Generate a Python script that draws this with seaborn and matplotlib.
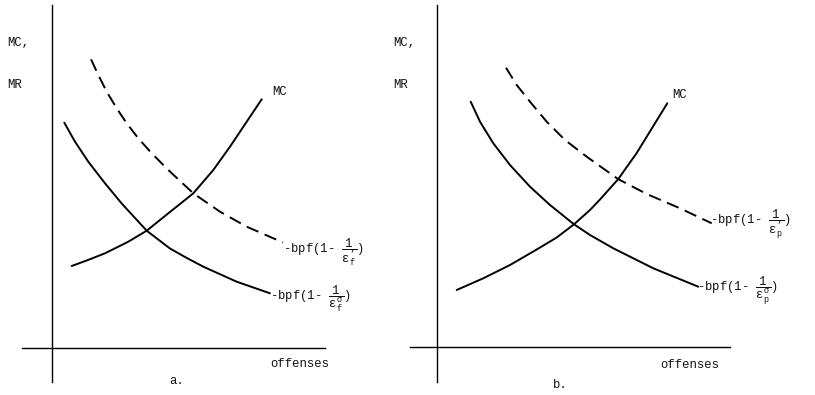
import matplotlib
matplotlib.use("Agg")
import matplotlib.pyplot as plt
import seaborn as sns
import pandas as pd

sns.set_style("white")
plt.rcParams['font.family'] = ['Liberation Mono', 'DejaVu Sans Mono']
plt.rcParams['mathtext.fontset'] = 'custom'
plt.rcParams['mathtext.rm'] = 'Liberation Mono'
plt.rcParams['mathtext.it'] = 'Liberation Mono'
plt.rcParams['mathtext.bf'] = 'Liberation Mono:bold'
plt.rcParams['mathtext.fallback'] = 'stixsans'

# ---- data (panel a) ----
a_mc_x = [1.97, 3.6, 5.3, 7.63, 9.47, 11.63, 13.3, 14.13, 16.13, 17.8, 19.47, 20.97]
a_mc_y = [8.2, 8.8, 9.47, 10.63, 11.73, 13.47, 14.8, 15.47, 17.8, 20.13, 22.63, 24.87]
a_mr_x = [1.23, 2.3, 3.63, 5.3, 6.97, 9.47, 11.8, 13.3, 15.13, 18.47, 21.8]
a_mr_y = [22.53, 20.63, 18.63, 16.47, 14.45, 11.73, 9.95, 9.1, 8.13, 6.63, 5.47]
a_mr2_x = [3.9, 4.63, 5.47, 6.47, 7.47, 8.63, 9.97, 11.63, 14.13, 16.8, 19.47, 23.1]
a_mr2_y = [28.87, 27.3, 25.63, 23.97, 22.47, 20.97, 19.47, 17.8, 15.47, 13.63, 12.13, 10.55]

# ---- data (panel b) ----
b_mc_x = [1.97, 4.63, 7.3, 9.97, 11.97, 13.7, 15.3, 16.3, 18.13, 19.97, 21.63, 23.03]
b_mc_y = [5.7, 6.87, 8.2, 9.75, 10.95, 12.27, 13.7, 14.75, 16.8, 19.4, 22.1, 24.37]
b_mr_x = [3.37, 4.3, 5.63, 7.3, 9.3, 11.3, 13.7, 15.3, 17.63, 21.63, 26.13]
b_mr_y = [24.53, 22.53, 20.37, 18.2, 16.03, 14.2, 12.27, 11.2, 9.87, 7.87, 6.03]
b_mr2_x = [6.9, 7.97, 9.3, 10.97, 12.8, 14.97, 18.1, 20.97, 24.3, 27.47]
b_mr2_y = [27.93, 26.2, 24.53, 22.53, 20.7, 19.03, 16.8, 15.3, 13.87, 12.37]

y_label_1 = "MC,"
y_label_2 = "MR"
x_label = "offenses"
mc_label = "MC"
a_upper = r"-bpf(1- $\dfrac{1}{\varepsilon_f^{’}}$)"
a_lower = r"-bpf(1- $\dfrac{1}{\varepsilon_f^{\sigma}}$)"
b_upper = r"-bpf(1- $\dfrac{1}{\varepsilon_p^{’}}$)"
b_lower = r"-bpf(1- $\dfrac{1}{\varepsilon_p^{\sigma}}$)"

W, H = 815, 395
fig = plt.figure(figsize=(W / 100, H / 100), dpi=100)
fig.patch.set_facecolor("white")

LW = 1.4
FS = 8.8
TXT = "#111111"


def make_axes(px0, px1, ox, oy):
    ax = fig.add_axes([px0 / W, 0, (px1 - px0) / W, 1])
    ax.set_xlim((px0 - ox) / 10, (px1 - ox) / 10)
    ax.set_ylim((oy - H) / 10, oy / 10)
    ax.set_facecolor("none")
    ax.set_xticks([])
    ax.set_yticks([])
    return ax


def style_spines(ax, xb, yb):
    for s in ["top", "right"]:
        ax.spines[s].set_visible(False)
    ax.spines["left"].set_position(("data", 0))
    ax.spines["bottom"].set_position(("data", 0))
    ax.spines["left"].set_bounds(*yb)
    ax.spines["bottom"].set_bounds(*xb)
    for s in ["left", "bottom"]:
        ax.spines[s].set_color("black")
        ax.spines[s].set_linewidth(1.0)


def curve(ax, xs, ys, dashed=False):
    df = pd.DataFrame({"x": xs, "y": ys})
    kw = dict(color="black", linewidth=LW, sort=False, estimator=None)
    line = sns.lineplot(data=df, x="x", y="y", ax=ax, **kw)
    ln = line.lines[-1]
    ln.set_solid_joinstyle("round")
    ln.set_solid_capstyle("round")
    if dashed:
        ln.set_dashes((6.5, 3.5))
    ax.set_xlabel("")
    ax.set_ylabel("")


def label(ax, x, y, s, ha="left", fs=FS):
    ax.text(x, y, s, fontsize=fs, va="center", ha=ha, color=TXT)


# panel a
axa = make_axes(0, 407, 52, 348)
style_spines(axa, (-3.0, 27.3), (-3.4, 34.3))
curve(axa, a_mc_x, a_mc_y)
curve(axa, a_mr_x, a_mr_y)
curve(axa, a_mr2_x, a_mr2_y, dashed=True)
label(axa, -4.5, 30.5, y_label_1)
label(axa, -4.5, 26.3, y_label_2)
label(axa, 22.0, 25.6, mc_label)
label(axa, 21.8, -1.6, x_label)
label(axa, 12.5, -3.3, "a.", ha="center")
label(axa, 23.1, 9.6, a_upper)
label(axa, 21.8, 4.9, a_lower)

# panel b
axb = make_axes(407, 815, 437, 347)
style_spines(axb, (-2.7, 29.3), (-3.5, 34.2))
curve(axb, b_mc_x, b_mc_y)
curve(axb, b_mr_x, b_mr_y)
curve(axb, b_mr2_x, b_mr2_y, dashed=True)
label(axb, -4.4, 30.4, y_label_1)
label(axb, -4.4, 26.2, y_label_2)
label(axb, 23.5, 25.2, mc_label)
label(axb, 22.3, -1.8, x_label)
label(axb, 12.3, -3.8, "b.", ha="center")
label(axb, 27.3, 12.3, b_upper)
label(axb, 26.0, 5.6, b_lower)

fig.savefig("out.png", dpi=100, facecolor="white")
